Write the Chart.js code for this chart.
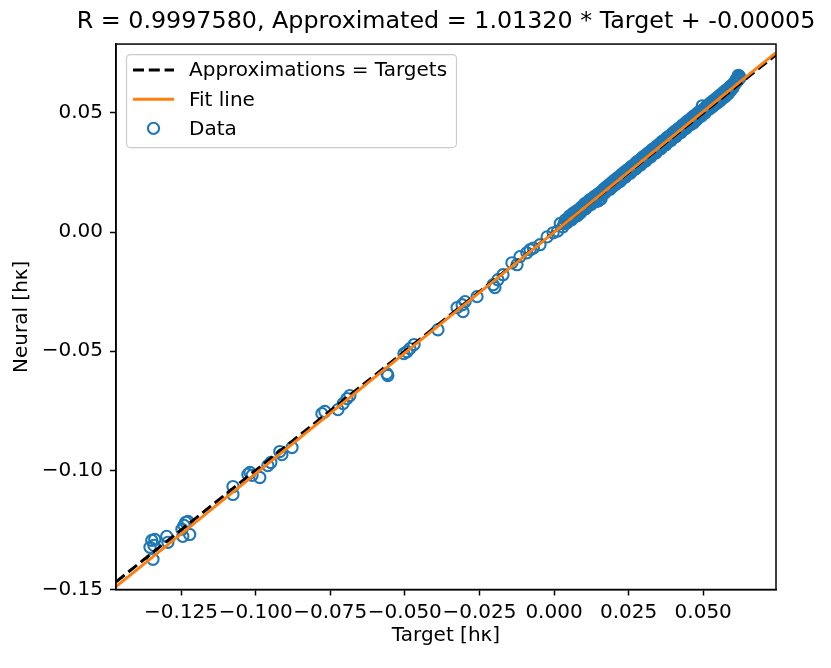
<!DOCTYPE html>
<html>
<head>
<meta charset="utf-8">
<script src="https://cdn.jsdelivr.net/npm/chart.js@4.4.0/dist/chart.umd.min.js"></script>
<style>
  html, body { margin: 0; padding: 0; background: #ffffff; }
  #wrap { width: 831px; height: 668px; position: relative; }
</style>
</head>
<body>
<div id="wrap"><canvas id="c" width="831" height="668"></canvas></div>
<script>
// ---------------- data ----------------
const chartTitle = 'R = 0.9997580, Approximated = 1.01320 * Target + -0.00005';
const xAxisTitle = 'Target [hκ]';
const yAxisTitle = 'Neural [hκ]';
const seriesLabels = ['Approximations = Targets', 'Fit line', 'Data'];

const fitSlope = 1.01320;
const fitIntercept = -0.00005;
const lineRange = [-0.1468, 0.0744];

const xTickValues = [-0.125, -0.100, -0.075, -0.050, -0.025, 0.000, 0.025, 0.050];
const xTickLabels = ['−0.125', '−0.100', '−0.075', '−0.050', '−0.025', '0.000', '0.025', '0.050'];
const yTickValues = [-0.15, -0.10, -0.05, 0.00, 0.05];
const yTickLabels = ['−0.15', '−0.10', '−0.05', '0.00', '0.05'];

// sparse part (negative targets)
const targetsSparse = [
  -0.1348, -0.1341, -0.1354, -0.1344, -0.1338, -0.1298, -0.1294, -0.1247, -0.1234, -0.1227, -0.1221, -0.1244, -0.1240,
  -0.1076, -0.1076, -0.1026, -0.1019, -0.1012, -0.0986, -0.0959, -0.0949, -0.0919, -0.0912, -0.0878,
  -0.0778, -0.0768, -0.0724, -0.0707, -0.0694, -0.0684,
  -0.0560, -0.0557, -0.0503, -0.0493, -0.0483, -0.0469,
  -0.0389, -0.0325, -0.0308, -0.0298, -0.0305, -0.0258, -0.0204, -0.0198, -0.0188, -0.0171,
  -0.0141, -0.0124, -0.0114, -0.0091, -0.0080, -0.0047, -0.0023, -0.0003, -0.0069
];
const neuralSparse = [
  -0.1294, -0.1315, -0.1323, -0.1373, -0.1290, -0.1277, -0.1302, -0.1247, -0.1218, -0.1214, -0.1269, -0.1277, -0.1231,
  -0.1068, -0.1101, -0.1017, -0.1009, -0.1021, -0.1030, -0.0980, -0.0967, -0.0921, -0.0934, -0.0904,
  -0.0762, -0.0753, -0.0745, -0.0720, -0.0699, -0.0686,
  -0.0594, -0.0602, -0.0510, -0.0502, -0.0489, -0.0472,
  -0.0410, -0.0317, -0.0305, -0.0292, -0.0334, -0.0271, -0.0221, -0.0233, -0.0200, -0.0179,
  -0.0129, -0.0137, -0.0103, -0.0087, -0.0074, -0.0053, -0.0020, -0.0003, -0.0067
];

// dense part, edges of the band (positive targets)
const targetsDenseEdge = [
  0.0012, 0.0021, 0.0030, 0.0038, 0.0045, 0.0052, 0.0059, 0.0064, 0.0070, 0.0074,
  0.0079, 0.0085, 0.0088, 0.0093, 0.0097, 0.0102, 0.0106, 0.0111, 0.0115, 0.0119,
  0.0124, 0.0127, 0.0132, 0.0136, 0.0141, 0.0145, 0.0149, 0.0153, 0.0156, 0.0158,
  0.0162, 0.0166, 0.0171, 0.0175, 0.0179, 0.0183, 0.0188, 0.0192, 0.0196, 0.0200,
  0.0205, 0.0209, 0.0213, 0.0217, 0.0222, 0.0226, 0.0230, 0.0234, 0.0239, 0.0243,
  0.0247, 0.0251, 0.0256, 0.0260, 0.0264, 0.0268, 0.0273, 0.0277, 0.0281, 0.0285,
  0.0290, 0.0294, 0.0298, 0.0302, 0.0307, 0.0311, 0.0315, 0.0319, 0.0324, 0.0328,
  0.0332, 0.0336, 0.0341, 0.0345, 0.0349, 0.0353, 0.0358, 0.0362, 0.0366, 0.0370,
  0.0375, 0.0379, 0.0383, 0.0387, 0.0392, 0.0396, 0.0400, 0.0404, 0.0409, 0.0413,
  0.0417, 0.0421, 0.0426, 0.0430, 0.0434, 0.0438, 0.0443, 0.0447, 0.0451, 0.0455,
  0.0460, 0.0464, 0.0468, 0.0472, 0.0477, 0.0481, 0.0485, 0.0489, 0.0494, 0.0497,
  0.0502, 0.0506, 0.0510, 0.0515, 0.0519, 0.0523, 0.0527, 0.0532, 0.0536, 0.0540,
  0.0544, 0.0549, 0.0553, 0.0557, 0.0561, 0.0566, 0.0570, 0.0574, 0.0578, 0.0583,
  0.0587, 0.0591, 0.0595, 0.0599, 0.0603, 0.0607, 0.0610, 0.0613, 0.0616, 0.0619,
  0.0621, 0.0623, 0.0618
];
const neuralDenseEdge = [
  0.0004, 0.0036, 0.0022, 0.0051, 0.0040, 0.0068, 0.0052, 0.0079, 0.0064, 0.0088,
  0.0069, 0.0097, 0.0080, 0.0106, 0.0092, 0.0118, 0.0098, 0.0125, 0.0110, 0.0135,
  0.0116, 0.0140, 0.0126, 0.0150, 0.0128, 0.0158, 0.0131, 0.0137, 0.0168, 0.0140,
  0.0157, 0.0180, 0.0165, 0.0189, 0.0175, 0.0198, 0.0180, 0.0206, 0.0190, 0.0216,
  0.0198, 0.0224, 0.0208, 0.0232, 0.0213, 0.0242, 0.0226, 0.0250, 0.0231, 0.0259,
  0.0243, 0.0266, 0.0247, 0.0276, 0.0260, 0.0283, 0.0264, 0.0294, 0.0277, 0.0301,
  0.0281, 0.0311, 0.0293, 0.0319, 0.0298, 0.0328, 0.0311, 0.0335, 0.0315, 0.0346,
  0.0328, 0.0352, 0.0332, 0.0362, 0.0345, 0.0370, 0.0349, 0.0380, 0.0362, 0.0387,
  0.0366, 0.0397, 0.0379, 0.0404, 0.0384, 0.0414, 0.0396, 0.0422, 0.0401, 0.0431,
  0.0413, 0.0438, 0.0418, 0.0448, 0.0430, 0.0456, 0.0435, 0.0466, 0.0447, 0.0473,
  0.0452, 0.0483, 0.0459, 0.0490, 0.0470, 0.0500, 0.0481, 0.0507, 0.0487, 0.0530,
  0.0517, 0.0499, 0.0527, 0.0512, 0.0537, 0.0518, 0.0545, 0.0527, 0.0554, 0.0535,
  0.0562, 0.0544, 0.0571, 0.0551, 0.0580, 0.0561, 0.0589, 0.0569, 0.0597, 0.0579,
  0.0607, 0.0592, 0.0616, 0.0604, 0.0626, 0.0622, 0.0639, 0.0632, 0.0649, 0.0641,
  0.0654, 0.0646, 0.0658
];

// dense part, core of the band
const targetsDenseCore = [
  0.0034, 0.0043, 0.0050, 0.0057, 0.0066, 0.0072, 0.0081, 0.0090, 0.0099, 0.0108,
  0.0117, 0.0122, 0.0130, 0.0138, 0.0147, 0.0160, 0.0168, 0.0177, 0.0186, 0.0194,
  0.0202, 0.0211, 0.0219, 0.0228, 0.0236, 0.0245, 0.0253, 0.0262, 0.0270, 0.0279,
  0.0287, 0.0296, 0.0304, 0.0313, 0.0321, 0.0330, 0.0338, 0.0347, 0.0355, 0.0364,
  0.0372, 0.0381, 0.0389, 0.0398, 0.0406, 0.0415, 0.0423, 0.0432, 0.0440, 0.0449,
  0.0457, 0.0466, 0.0474, 0.0483, 0.0491, 0.0500, 0.0508, 0.0517, 0.0525, 0.0534,
  0.0542, 0.0551, 0.0559, 0.0568, 0.0576, 0.0585, 0.0593, 0.0601, 0.0609, 0.0614,
  0.0620
];
const neuralDenseCore = [
  0.0036, 0.0046, 0.0049, 0.0061, 0.0065, 0.0076, 0.0083, 0.0090, 0.0103, 0.0108,
  0.0121, 0.0122, 0.0134, 0.0138, 0.0151, 0.0160, 0.0173, 0.0178, 0.0191, 0.0195,
  0.0207, 0.0212, 0.0225, 0.0229, 0.0241, 0.0246, 0.0258, 0.0263, 0.0276, 0.0281,
  0.0293, 0.0297, 0.0310, 0.0315, 0.0328, 0.0332, 0.0345, 0.0350, 0.0362, 0.0367,
  0.0380, 0.0384, 0.0397, 0.0402, 0.0414, 0.0418, 0.0431, 0.0436, 0.0449, 0.0453,
  0.0466, 0.0470, 0.0484, 0.0488, 0.0501, 0.0505, 0.0518, 0.0522, 0.0535, 0.0540,
  0.0553, 0.0557, 0.0570, 0.0575, 0.0588, 0.0593, 0.0606, 0.0612, 0.0628, 0.0637,
  0.0645
];

// ---------------- styles ----------------
const BLUE = '#1f77b4';
const ORANGE = '#ff7f0e';
const FONT = "'DejaVu Sans', 'Liberation Sans', sans-serif";

const allTargets = targetsSparse.concat(targetsDenseEdge, targetsDenseCore);
const allNeural = neuralSparse.concat(neuralDenseEdge, neuralDenseCore);
const scatterPoints = allTargets.map((t, i) => ({ x: t, y: allNeural[i] }));
const identityPoints = lineRange.map(v => ({ x: v, y: v }));
const fitPoints = lineRange.map(v => ({ x: v, y: fitSlope * v + fitIntercept }));

// center the title over the axes like matplotlib (box may overhang the plot)
const titleShift = {
  id: 'titleShift',
  afterLayout(chart) {
    const t = chart.titleBlock;
    if (!t) return;
    const a = chart.chartArea;
    const half = 385.5;
    const c = (a.left + a.right) / 2;
    t.left = c - half;
    t.right = c + half;
    t.width = t.right - t.left;
  }
};

// frame (top/right spines)
const framePlugin = {
  id: 'frame',
  afterDatasetsDraw(chart) {
    const { ctx, chartArea: a } = chart;
    ctx.save();
    ctx.strokeStyle = '#000';
    ctx.lineWidth = 1.5;
    ctx.strokeRect(a.left, a.top, a.right - a.left, a.bottom - a.top);
    ctx.restore();
  }
};

// in-axes legend (matplotlib style, upper left)
const innerLegend = {
  id: 'innerLegend',
  afterDraw(chart) {
    const { ctx, chartArea: a } = chart;
    const ds = chart.data.datasets;
    const bx = a.left + 10, by = a.top + 10, bw = 330, bh = 93;
    ctx.save();
    ctx.beginPath();
    if (ctx.roundRect) ctx.roundRect(bx + 0.5, by + 0.5, bw, bh, 4);
    else ctx.rect(bx + 0.5, by + 0.5, bw, bh);
    ctx.fillStyle = 'rgba(255,255,255,0.8)';
    ctx.fill();
    ctx.strokeStyle = '#cccccc';
    ctx.lineWidth = 1.2;
    ctx.stroke();

    const rowY = [by + 16, by + 45.3, by + 74.3];
    const order = [1, 2, 0]; // dataset indices: identity, fit, scatter
    ctx.font = '20px ' + FONT;
    ctx.textBaseline = 'middle';
    ctx.textAlign = 'left';
    order.forEach((di, r) => {
      const d = ds[di];
      const y = rowY[r];
      ctx.save();
      if (d.type === 'line') {
        ctx.strokeStyle = d.borderColor;
        ctx.lineWidth = d.borderWidth;
        ctx.setLineDash(d.borderDash || []);
        ctx.beginPath();
        ctx.moveTo(bx + 7, y);
        ctx.lineTo(bx + 48, y);
        ctx.stroke();
      } else {
        ctx.strokeStyle = d.borderColor;
        ctx.lineWidth = d.borderWidth;
        ctx.beginPath();
        ctx.arc(bx + 27.5, y, d.pointRadius, 0, Math.PI * 2);
        ctx.stroke();
      }
      ctx.restore();
      ctx.fillStyle = '#000';
      ctx.fillText(d.label, bx + 63, y + 1);
    });
    ctx.restore();
  }
};

Chart.defaults.font.family = FONT;
Chart.defaults.color = '#000';

new Chart(document.getElementById('c'), {
  type: 'scatter',
  data: {
    datasets: [
      {
        type: 'scatter',
        label: seriesLabels[2],
        data: scatterPoints,
        borderColor: BLUE,
        backgroundColor: 'rgba(0,0,0,0)',
        borderWidth: 2.1,
        pointRadius: 5.6,
        pointHoverRadius: 5.6,
        order: 3
      },
      {
        type: 'line',
        label: seriesLabels[0],
        data: identityPoints,
        borderColor: '#000000',
        borderWidth: 3,
        borderDash: [11, 4.8],
        pointRadius: 0,
        fill: false,
        order: 2
      },
      {
        type: 'line',
        label: seriesLabels[1],
        data: fitPoints,
        borderColor: ORANGE,
        borderWidth: 3,
        pointRadius: 0,
        fill: false,
        order: 1
      }
    ]
  },
  options: {
    responsive: false,
    animation: false,
    events: [],
    layout: { padding: { left: 0, right: 55, top: 0, bottom: 0 } },
    plugins: {
      legend: { display: false },
      tooltip: { enabled: false },
      title: {
        display: true,
        text: chartTitle,
        fullSize: true,
        color: '#000',
        font: { family: FONT, size: 23.8, weight: 'normal', lineHeight: 1.2 },
        padding: { top: 8, bottom: 7.5 }
      }
    },
    scales: {
      x: {
        type: 'linear',
        min: lineRange[0],
        max: lineRange[1],
        afterBuildTicks: s => { s.ticks = xTickValues.map(v => ({ value: v })); },
        afterFit: s => { s.height = 78.5; },
        grid: { display: true, drawOnChartArea: false, drawTicks: true, tickLength: 6, tickWidth: 1.5, color: '#000' },
        border: { display: true, color: '#000', width: 1.5 },
        ticks: {
          autoSkip: false, maxRotation: 0, minRotation: 0, padding: 5,
          font: { family: FONT, size: 20 }, color: '#000',
          callback: (v, i) => xTickLabels[i]
        },
        title: {
          display: true, text: xAxisTitle, color: '#000',
          font: { family: FONT, size: 20, lineHeight: 1.2 },
          padding: { top: 0, bottom: 20 }
        }
      },
      y: {
        type: 'linear',
        min: -0.15,
        max: 0.0789,
        afterBuildTicks: s => { s.ticks = yTickValues.map(v => ({ value: v })); },
        afterFit: s => { s.width = 116; },
        grid: { display: true, drawOnChartArea: false, drawTicks: true, tickLength: 6, tickWidth: 1.5, color: '#000' },
        border: { display: true, color: '#000', width: 1.5 },
        ticks: {
          autoSkip: false, padding: 7,
          font: { family: FONT, size: 20 }, color: '#000',
          callback: (v, i) => yTickLabels[i]
        },
        title: {
          display: true, text: yAxisTitle, color: '#000',
          font: { family: FONT, size: 20, lineHeight: 1.2 },
          padding: { top: 10, bottom: 0 }
        }
      }
    }
  },
  plugins: [titleShift, framePlugin, innerLegend]
});
</script>
</body>
</html>
